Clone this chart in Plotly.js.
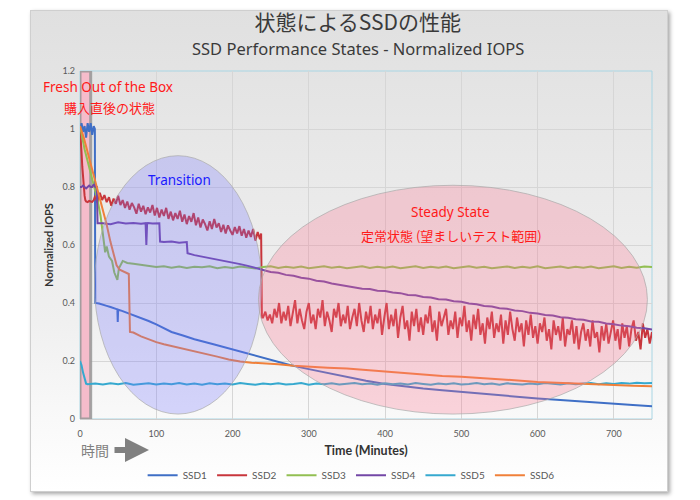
<!DOCTYPE html>
<html>
<head>
<meta charset="utf-8">
<script src="https://cdn.plot.ly/plotly-3.0.1.min.js"></script>
<style>
  html, body { margin: 0; padding: 0; background: #ffffff; }
  #wrap { position: relative; width: 700px; height: 500px; overflow: hidden; }
  #card {
    position: absolute; left: 30px; top: 10px; width: 636px; height: 480px;
    background: linear-gradient(to bottom, #e0e0e0 0%, #e8e8e8 30%, #f0f0f0 65%, #f9f9f9 85%, #ffffff 100%);
    border: 1px solid #cfcfcf;
    box-shadow: 2px 2px 4px rgba(0,0,0,0.35);
  }
  #chart { position: absolute; left: 0; top: 0; width: 700px; height: 500px; }
</style>
</head>
<body>
<div id="wrap">
  <div id="card"></div>
  <div id="chart"></div>
</div>
<script>
// ---------- data ----------
const seriesNames = ['SSD1', 'SSD2', 'SSD3', 'SSD4', 'SSD5', 'SSD6'];
const seriesColors = ['#3f6fc6', '#c8363c', '#92bf52', '#7347a6', '#36a9cf', '#f0803a'];

// SSD1
const ssd1Time = [0,2,4,6,8,10,12,14,16,18,19.5,20,25,30,35,40,45,49,49.5,50,55,60,70,80,90,100,110,120,135,150,175,200,225,250,275,300,325,350,375,400,425,450,475,500,525,550,575,600,625,650,675,700,725,750];
const ssd1 = [0.98,1.02,0.99,1.01,0.97,1.02,0.99,1.02,0.98,1.01,1.0,0.40,0.398,0.393,0.39,0.386,0.382,0.378,0.335,0.377,0.373,0.368,0.36,0.35,0.338,0.326,0.313,0.30,0.288,0.275,0.258,0.24,0.221,0.202,0.186,0.172,0.158,0.145,0.132,0.121,0.112,0.105,0.099,0.093,0.087,0.081,0.076,0.071,0.066,0.061,0.057,0.053,0.048,0.044];

// SSD2
const ssd2HeadTime = [0,1,2,3,4,5,6,7,8,10,12,14,16,18];
const ssd2Head = [1.0,0.97,0.92,0.87,0.83,0.80,0.77,0.755,0.75,0.748,0.752,0.75,0.749,0.755];
const ssd2TransStart = 20, ssd2TransStep = 3;
const ssd2Trans = [0.77,0.745,0.78,0.755,0.772,0.748,0.765,0.735,0.76,0.742,
  0.77,0.738,0.755,0.728,0.75,0.722,0.745,0.73,0.708,0.742,
  0.715,0.735,0.706,0.73,0.712,0.738,0.702,0.728,0.695,0.722,
  0.70,0.728,0.69,0.715,0.685,0.71,0.69,0.718,0.68,0.705,
  0.672,0.70,0.68,0.71,0.668,0.695,0.66,0.688,0.672,0.65,
  0.682,0.655,0.69,0.66,0.675,0.645,0.67,0.64,0.668,0.65,
  0.635,0.662,0.64,0.665,0.632,0.655,0.625,0.65,0.628,0.655,
  0.615,0.645,0.62];
const ssd2DropTime = [237.5, 238.5];
const ssd2Drop = [0.64, 0.35];
const ssd2SteadyStart = 240, ssd2SteadyStep = 3;
const ssd2Steady = [0.35,0.37,0.34,0.36,0.33,0.38,0.35,0.40,0.33,0.37,
  0.34,0.39,0.32,0.36,0.41,0.33,0.38,0.34,0.31,0.37,
  0.40,0.33,0.36,0.31,0.38,0.35,0.41,0.32,0.37,0.34,
  0.30,0.38,0.35,0.40,0.32,0.36,0.33,0.39,0.31,0.35,
  0.38,0.32,0.40,0.34,0.30,0.37,0.33,0.39,0.31,0.36,
  0.33,0.38,0.29,0.35,0.40,0.31,0.36,0.32,0.38,0.28,
  0.35,0.39,0.31,0.34,0.27,0.37,0.32,0.38,0.30,0.35,
  0.29,0.36,0.33,0.39,0.30,0.34,0.27,0.37,0.32,0.35,
  0.38,0.29,0.34,0.31,0.37,0.28,0.35,0.32,0.39,0.30,
  0.34,0.27,0.36,0.31,0.38,0.29,0.33,0.26,0.35,0.31,
  0.37,0.28,0.33,0.30,0.36,0.26,0.34,0.29,0.37,0.31,
  0.27,0.35,0.30,0.33,0.25,0.34,0.29,0.36,0.28,0.32,
  0.26,0.33,0.30,0.35,0.27,0.31,0.24,0.34,0.29,0.32,
  0.27,0.35,0.25,0.31,0.29,0.34,0.26,0.32,0.24,0.30,
  0.33,0.27,0.31,0.25,0.34,0.28,0.30,0.23,0.32,0.27,
  0.33,0.26,0.30,0.34,0.27,0.31,0.24,0.33,0.28,0.32,
  0.25,0.31,0.34,0.27,0.30,0.24,0.33,0.28,0.31,0.26,
  0.30];

// SSD3
const ssd3HeadTime = [0,1.6,6,12,18,23,27,30,33,35,38,42,45,49,51,56,62,70,80];
const ssd3Head = [1.0,0.99,0.93,0.87,0.81,0.755,0.70,0.63,0.575,0.595,0.56,0.545,0.505,0.48,0.52,0.545,0.538,0.535,0.532];
const ssd3FlatStart = 90, ssd3FlatStep = 10;
const ssd3Flat = [0.528,0.524,0.527,0.522,0.526,0.521,0.525,0.523,0.527,0.52,
  0.524,0.521,0.526,0.522,0.519,0.524,0.527,0.521,0.525,0.522,
  0.526,0.52,0.524,0.527,0.522,0.525,0.52,0.524,0.527,0.521,
  0.525,0.522,0.526,0.52,0.524,0.527,0.521,0.525,0.522,0.526,
  0.52,0.524,0.527,0.522,0.525,0.52,0.524,0.526,0.521,0.525,
  0.522,0.527,0.52,0.524,0.526,0.521,0.525,0.522,0.526,0.52,
  0.524,0.527,0.521,0.525,0.522,0.526,0.524];

// SSD4
const ssd4HeadTime = [0,2,4,6,8,10,12,14,16,18,20,22,23,30,40,50,60,70,80,86,87,88,89,95,100,104,105,110,120,130,140,141,150,160,170,180];
const ssd4Head = [0.80,0.80,0.805,0.80,0.795,0.80,0.805,0.80,0.80,0.81,0.80,0.80,0.675,0.675,0.672,0.678,0.674,0.676,0.673,0.675,0.60,0.675,0.676,0.674,0.675,0.675,0.612,0.61,0.612,0.608,0.61,0.572,0.565,0.56,0.555,0.55];
const ssd4TailStart = 190, ssd4TailStep = 10;
const ssd4Tail = [0.545,0.541,0.534,0.528,0.52,0.514,0.507,0.504,0.497,0.494,
  0.487,0.484,0.477,0.474,0.467,0.463,0.457,0.455,0.449,0.448,
  0.442,0.441,0.436,0.434,0.428,0.427,0.421,0.419,0.413,0.412,
  0.406,0.404,0.398,0.396,0.39,0.388,0.382,0.38,0.374,0.372,
  0.366,0.364,0.359,0.357,0.351,0.349,0.344,0.342,0.336,0.335,
  0.329,0.327,0.322,0.32,0.315,0.313,0.309];

// SSD5
const ssd5HeadTime = [0,2,4,6,8,10];
const ssd5Head = [0.20,0.185,0.16,0.135,0.122,0.12];
const ssd5FlatStart = 20, ssd5FlatStep = 10;
const ssd5Flat = [0.122,0.119,0.123,0.12,0.124,0.118,0.121,0.123,0.119,0.122,
  0.12,0.124,0.119,0.122,0.118,0.123,0.12,0.122,0.119,0.124,
  0.121,0.118,0.122,0.12,0.123,0.119,0.121,0.124,0.118,0.122,
  0.12,0.123,0.119,0.121,0.124,0.12,0.122,0.118,0.123,0.12,
  0.122,0.119,0.124,0.121,0.118,0.122,0.12,0.123,0.119,0.121,
  0.124,0.12,0.122,0.118,0.123,0.121,0.119,0.122,0.12,0.124,
  0.121,0.119,0.123,0.12,0.122,0.124,0.12,0.123,0.121,0.124,
  0.122,0.125,0.123,0.124];

// SSD6
const ssd6Time = [0,5,10,15,20,25,30,35,40,45,48,52,56,60,64,65.5,70,80,90,100,110,120,135,150,165,180,195,210,225,240,260,280,300,325,350,375,400,425,450,475,500,525,550,575,600,625,650,675,700,725,750];
const ssd6 = [1.01,0.97,0.92,0.87,0.825,0.78,0.73,0.67,0.61,0.555,0.53,0.515,0.51,0.505,0.50,0.30,0.298,0.285,0.275,0.265,0.258,0.252,0.243,0.235,0.226,0.215,0.205,0.198,0.194,0.192,0.189,0.184,0.18,0.177,0.174,0.169,0.164,0.158,0.153,0.148,0.146,0.141,0.137,0.133,0.128,0.125,0.122,0.119,0.117,0.115,0.113];

// axis ticks
const xTickVals = [0,100,200,300,400,500,600,700];
const yTickVals = [0,0.2,0.4,0.6,0.8,1,1.2];
const yTickText = ['0','0.2','0.4','0.6','0.8','1','1.2'];

// ---------- assemble ----------
function grid(start, step, n) { const a = []; for (let i = 0; i < n; i++) a.push(start + i * step); return a; }

const ssd2Time = ssd2HeadTime
  .concat(grid(ssd2TransStart, ssd2TransStep, ssd2Trans.length))
  .concat(ssd2DropTime)
  .concat(grid(ssd2SteadyStart, ssd2SteadyStep, ssd2Steady.length));
const ssd2 = ssd2Head.concat(ssd2Trans).concat(ssd2Drop).concat(ssd2Steady);
const ssd3Time = ssd3HeadTime.concat(grid(ssd3FlatStart, ssd3FlatStep, ssd3Flat.length));
const ssd3 = ssd3Head.concat(ssd3Flat);
const ssd4Time = ssd4HeadTime.concat(grid(ssd4TailStart, ssd4TailStep, ssd4Tail.length));
const ssd4 = ssd4Head.concat(ssd4Tail);
const ssd5Time = ssd5HeadTime.concat(grid(ssd5FlatStart, ssd5FlatStep, ssd5Flat.length));
const ssd5 = ssd5Head.concat(ssd5Flat);

const xs = [ssd1Time, ssd2Time, ssd3Time, ssd4Time, ssd5Time, ssd6Time];
const ys = [ssd1, ssd2, ssd3, ssd4, ssd5, ssd6];

const traces = seriesNames.map((n, i) => ({
  type: 'scatter', mode: 'lines', name: n,
  x: xs[i], y: ys[i],
  line: { color: seriesColors[i], width: 2 },
  hoverinfo: 'skip'
}));

const txtFont = 'Noto Sans, sans-serif';
const cjk = 'Noto Sans CJK JP, sans-serif';

const layout = {
  width: 700, height: 500,
  paper_bgcolor: 'rgba(0,0,0,0)',
  plot_bgcolor: 'rgba(0,0,0,0)',
  margin: { l: 80, r: 48, t: 71, b: 80 },
  showlegend: true,
  title: {
    text: '状態によるSSDの性能',
    font: { family: cjk, size: 21, color: '#3a3a3a' },
    xref: 'container', x: 0.511, xanchor: 'center',
    yref: 'container', y: 0.954, yanchor: 'middle'
  },
  xaxis: {
    range: [0, 750], tickvals: xTickVals, ticktext: xTickVals.map(String),
    showgrid: true, gridcolor: '#d6d6d6', gridwidth: 1,
    zeroline: false, showline: true, linecolor: '#cccccc',
    ticks: '', ticklabelstandoff: 6,
    tickfont: { family: 'Lato, sans-serif', size: 9, color: '#595959' },
    title: { text: 'Time (Minutes)', font: { family: 'Lato, sans-serif', size: 12.5, color: '#333333', weight: 'bold' }, standoff: 8 }
  },
  yaxis: {
    range: [0, 1.2], tickvals: yTickVals, ticktext: yTickText,
    showgrid: true, gridcolor: '#d6d6d6', gridwidth: 1,
    zeroline: false, showline: false,
    ticks: '', ticklabelstandoff: 4,
    tickfont: { family: 'Lato, sans-serif', size: 9, color: '#595959' },
    title: { text: 'Normalized IOPS', font: { family: 'Lato, sans-serif', size: 11, color: '#333333', weight: 'bold' }, standoff: 6 }
  },
  legend: {
    orientation: 'h', x: 0.474, xanchor: 'center', y: -0.158, yanchor: 'middle',
    font: { family: 'Lato, sans-serif', size: 10, color: '#595959' },
    bgcolor: 'rgba(0,0,0,0)', itemwidth: 30
  },
  shapes: [
    // plot frame
    { type: 'rect', xref: 'paper', yref: 'paper', x0: 0, x1: 1, y0: 0, y1: 1,
      line: { color: '#a9d6e4', width: 1 }, fillcolor: 'rgba(0,0,0,0)', layer: 'below' },
    // fresh-out-of-box band
    { type: 'rect', xref: 'x', yref: 'y', x0: 0, x1: 14, y0: 0, y1: 1.2,
      fillcolor: '#f5bccb', line: { color: 'rgba(150,150,150,0.85)', width: 3 }, layer: 'between' },
    // transition ellipse
    { type: 'circle', xref: 'x', yref: 'y', x0: 19, x1: 238, y0: 0.017, y1: 0.908,
      fillcolor: 'rgba(110,110,255,0.27)', line: { color: 'rgba(170,170,170,0.7)', width: 1 }, layer: 'above' },
    // steady-state ellipse
    { type: 'circle', xref: 'x', yref: 'y', x0: 234, x1: 744, y0: 0.017, y1: 0.806,
      fillcolor: 'rgba(250,110,140,0.28)', line: { color: 'rgba(170,170,170,0.7)', width: 1 }, layer: 'above' }
  ],
  annotations: [
    { text: 'SSD Performance States - Normalized IOPS', xref: 'paper', yref: 'paper',
      x: 0.486, y: 1.066, xanchor: 'center', yanchor: 'middle', showarrow: false,
      font: { family: 'Noto Sans, sans-serif', size: 16.5, color: '#3a3a3a' } },
    { text: 'Fresh Out of the Box', xref: 'x', yref: 'y', x: 37, y: 1.145,
      xanchor: 'center', yanchor: 'middle', showarrow: false,
      font: { family: txtFont, size: 13.5, color: '#ff1a1a' } },
    { text: '購入直後の状態', xref: 'x', yref: 'y', x: 38.5, y: 1.075,
      xanchor: 'center', yanchor: 'middle', showarrow: false,
      font: { family: cjk, size: 13, color: '#ff1a1a' } },
    { text: 'Transition', xref: 'x', yref: 'y', x: 130, y: 0.823,
      xanchor: 'center', yanchor: 'middle', showarrow: false,
      font: { family: txtFont, size: 13.5, color: '#1a1aff' } },
    { text: 'Steady State', xref: 'x', yref: 'y', x: 486, y: 0.714,
      xanchor: 'center', yanchor: 'middle', showarrow: false,
      font: { family: txtFont, size: 13.5, color: '#ff1a1a' } },
    { text: '定常状態 (望ましいテスト範囲)', xref: 'x', yref: 'y', x: 487, y: 0.633,
      xanchor: 'center', yanchor: 'middle', showarrow: false,
      font: { family: cjk, size: 13, color: '#ff1a1a' } },
    { text: '時間', xref: 'paper', yref: 'paper', x: (95 - 80) / 572, y: (420 - 451) / 349,
      xanchor: 'center', yanchor: 'middle', showarrow: false,
      font: { family: cjk, size: 14, color: '#808080' } },
    { text: '', xref: 'paper', yref: 'paper', x: (149 - 80) / 572, y: (420 - 451) / 349,
      axref: 'pixel', ayref: 'pixel', ax: -36, ay: 0, showarrow: true,
      arrowhead: 2, arrowsize: 0.8, arrowwidth: 6, arrowcolor: '#808080' }
  ]
};

Plotly.newPlot('chart', traces, layout, { displayModeBar: false, staticPlot: true });
</script>
</body>
</html>
